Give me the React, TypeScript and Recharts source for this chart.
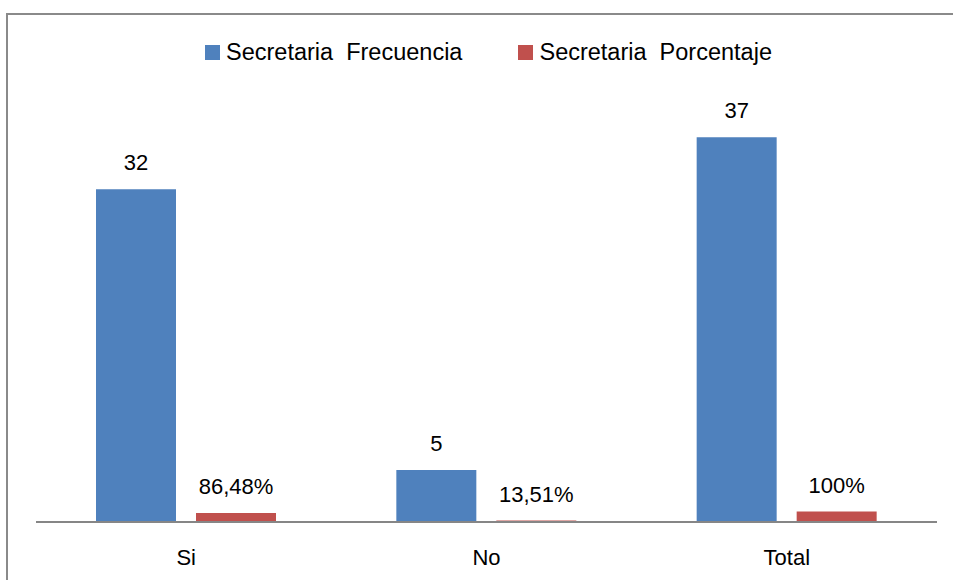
import React from 'react';
import { BarChart, Bar, XAxis, YAxis, Legend, LabelList } from 'recharts';

const categories = ['Si', 'No', 'Total'];
const frecuencia = [32, 5, 37];
const porcentaje = [0.8648, 0.1351, 1];

const seriesNames = ['Secretaria  Frecuencia', 'Secretaria  Porcentaje'];
const seriesColors = ['#4F81BD', '#C0504D'];

const FONT = '"Liberation Sans", Arial, sans-serif';

const data = categories.map((c, i) => ({
  name: c,
  frecuencia: frecuencia[i],
  porcentaje: porcentaje[i],
}));

// Excel-style percent with comma decimal
const formatPct = (v: any) =>
  Number((Number(v) * 100).toFixed(2)).toString().replace('.', ',') + '%';

const LegendContent = () => (
  <div style={{ display: 'flex', justifyContent: 'center', marginLeft: 24, fontFamily: FONT, fontSize: 23.5 }}>
    {seriesNames.map((n, i) => (
      <div key={n} style={{ display: 'flex', alignItems: 'center', marginRight: i === 0 ? 56 : 0 }}>
        <span style={{ width: 15, height: 15, background: seriesColors[i], display: 'inline-block', marginRight: 6 }} />
        <span style={{ whiteSpace: 'pre', color: '#000' }}>{n}</span>
      </div>
    ))}
  </div>
);

export default function App() {
  return (
    <div style={{ position: 'absolute', left: 0, top: 0, width: 953, height: 580, overflow: 'hidden', background: '#fff' }}>
      <div
        style={{
          position: 'absolute',
          left: 6,
          top: 13,
          width: 1000,
          height: 1000,
          borderLeft: '2px solid #8a8a8a',
          borderTop: '2px solid #8a8a8a',
        }}
      />
      <BarChart
        width={953}
        height={580}
        data={data}
        margin={{ top: 106, right: 16, left: 36, bottom: 28 }}
        barCategoryGap={60}
        barGap={20}
        style={{ position: 'absolute', left: 0, top: 0 }}
      >
        <XAxis
          dataKey="name"
          axisLine={{ stroke: '#868686', strokeWidth: 2 }}
          tickLine={false}
          tickSize={0}
          tickMargin={27}
          tick={{ fontSize: 22, fill: '#000', fontFamily: FONT }}
        />
        <YAxis hide domain={[0, 40]} />
        <Legend
          layout="horizontal"
          verticalAlign="middle"
          align="center"
          content={<LegendContent />}
          wrapperStyle={{ top: 39, left: 0, width: 953 }}
        />
        <Bar dataKey="frecuencia" name={seriesNames[0]} fill={seriesColors[0]} barSize={80} isAnimationActive={false}>
          <LabelList dataKey="frecuencia" position="top" offset={19} style={{ fontSize: 22, fill: '#000', fontFamily: FONT }} />
        </Bar>
        <Bar dataKey="porcentaje" name={seriesNames[1]} fill={seriesColors[1]} barSize={80} isAnimationActive={false}>
          <LabelList
            dataKey="porcentaje"
            position="top"
            offset={19}
            formatter={formatPct}
            style={{ fontSize: 22, fill: '#000', fontFamily: FONT }}
          />
        </Bar>
      </BarChart>
    </div>
  );
}
